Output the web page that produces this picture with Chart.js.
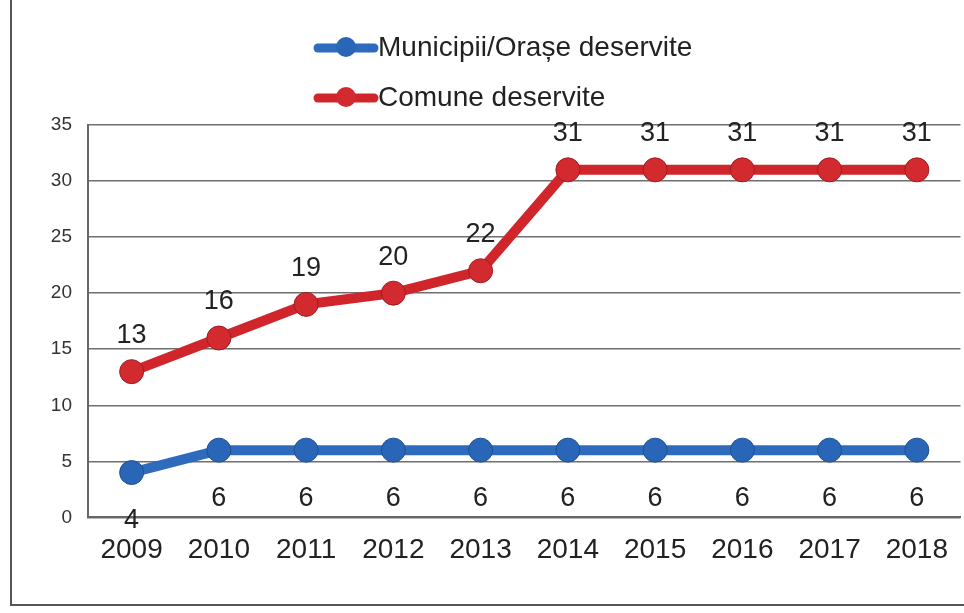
<!DOCTYPE html>
<html>
<head>
<meta charset="utf-8">
<script src="https://cdn.jsdelivr.net/npm/chart.js@4.4.1/dist/chart.umd.min.js"></script>
<style>
  html, body { margin: 0; padding: 0; background: #fff; }
  #wrap { position: relative; width: 964px; height: 613px; }
  #frame { position: absolute; left: 10px; top: 0; width: 960px; height: 604px;
           border-left: 2px solid #555; border-bottom: 2px solid #555; pointer-events: none; }
  canvas { position: absolute; left: 0; top: 0; }
</style>
</head>
<body>
<div id="wrap">
  <canvas id="lineChart" width="964" height="613"></canvas>
  <div id="frame"></div>
</div>
<script>
var years = ['2009', '2010', '2011', '2012', '2013', '2014', '2015', '2016', '2017', '2018'];
var municipii = [4, 6, 6, 6, 6, 6, 6, 6, 6, 6];
var comune = [13, 16, 19, 20, 22, 31, 31, 31, 31, 31];
var yTicks = [0, 5, 10, 15, 20, 25, 30, 35];

var blue = '#2f6bbd';
var red = '#d0262b';
var fontName = '"Liberation Sans", Arial, sans-serif';

// value labels: red above the points, blue below
var valueLabels = {
    id: 'valueLabels',
    afterDatasetsDraw: function(chart) {
        var ctx = chart.ctx;
        ctx.save();
        ctx.font = '27px ' + fontName;
        ctx.fillStyle = '#222';
        ctx.textAlign = 'center';
        ctx.textBaseline = 'middle';
        chart.data.datasets.forEach(function(ds, i) {
            var meta = chart.getDatasetMeta(i);
            meta.data.forEach(function(pt, j) {
                var dy = i === 0 ? 48 : -36;
                ctx.fillText(ds.data[j], pt.x, pt.y + dy);
            });
        });
        ctx.restore();
    }
};

// legend drawn as line + ball, one item per row
var lineLegend = {
    id: 'lineLegend',
    afterDraw: function(chart) {
        var ctx = chart.ctx;
        ctx.save();
        ctx.font = '28px ' + fontName;
        ctx.textBaseline = 'middle';
        chart.data.datasets.forEach(function(ds, i) {
            var y = 48 + i * 50;
            var x0 = 318, x1 = 374;
            ctx.strokeStyle = ds.borderColor;
            ctx.lineWidth = 9;
            ctx.lineCap = 'round';
            ctx.beginPath();
            ctx.moveTo(x0, y);
            ctx.lineTo(x1, y);
            ctx.stroke();
            ctx.fillStyle = ds.pointBackgroundColor;
            ctx.beginPath();
            ctx.arc((x0 + x1) / 2, y - 1, 10, 0, Math.PI * 2);
            ctx.fill();
            ctx.fillStyle = '#222';
            ctx.textAlign = 'left';
            ctx.fillText(ds.label, 378, y);
        });
        ctx.restore();
    }
};

var ctx = document.getElementById('lineChart').getContext('2d');
var chart = new Chart(ctx, {
    type: 'line',
    data: {
        labels: years,
        datasets: [{
            label: 'Municipii/Orașe deservite',
            data: municipii,
            borderColor: blue,
            backgroundColor: blue,
            pointBackgroundColor: '#2a66b8',
            pointBorderColor: '#1f4f94',
            borderWidth: 10,
            pointRadius: 12,
            pointBorderWidth: 1
        }, {
            label: 'Comune deservite',
            data: comune,
            borderColor: red,
            backgroundColor: red,
            pointBackgroundColor: '#d22a2f',
            pointBorderColor: '#9e1c20',
            borderWidth: 10,
            pointRadius: 12,
            pointBorderWidth: 1
        }]
    },
    options: {
        responsive: false,
        animation: false,
        layout: { autoPadding: false, padding: { top: 125, left: 0, right: 0, bottom: 30 } },
        scales: {
            x: {
                offset: true,
                grid: { display: false, drawTicks: false },
                border: { color: '#666', width: 2 },
                ticks: {
                    color: '#222',
                    padding: 16,
                    font: { family: fontName, size: 28 }
                }
            },
            y: {
                min: 0,
                max: 35,
                afterFit: function(scale) { scale.width = 88; },
                afterBuildTicks: function(scale) {
                    scale.ticks = yTicks.map(function(v) { return { value: v }; });
                },
                grid: { color: '#6f6f6f', lineWidth: 1.5, drawTicks: false },
                border: { color: '#666', width: 2 },
                ticks: {
                    color: '#333',
                    padding: 16,
                    font: { family: fontName, size: 19 }
                }
            }
        },
        plugins: {
            legend: { display: false },
            tooltip: { enabled: false }
        }
    },
    plugins: [valueLabels, lineLegend]
});
</script>
</body>
</html>
